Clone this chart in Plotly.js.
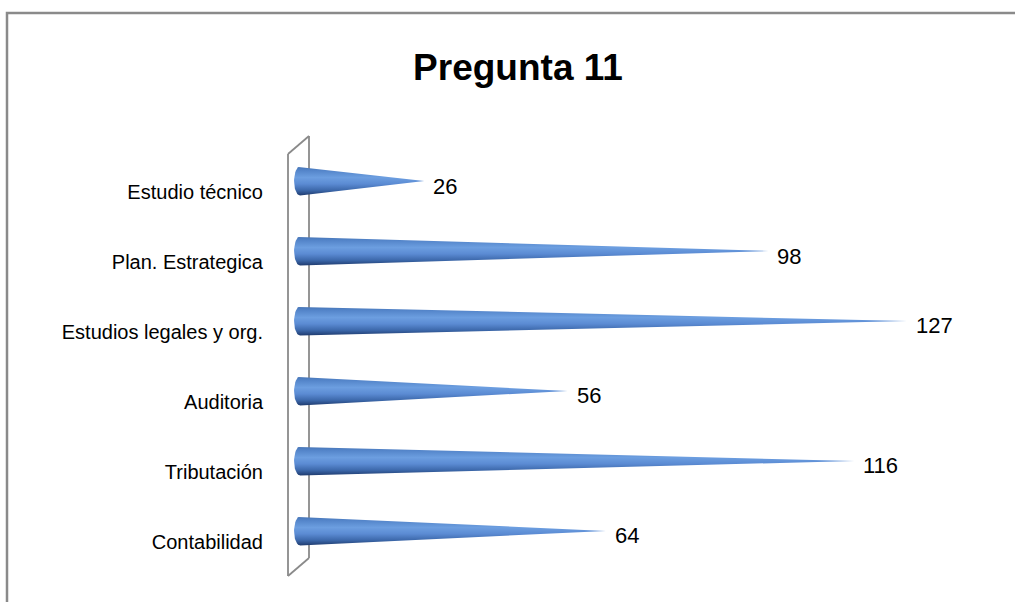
<!DOCTYPE html>
<html>
<head>
<meta charset="utf-8">
<script src="https://cdn.plot.ly/plotly-3.0.1.min.js"></script>
<style>html,body{margin:0;padding:0;background:#fff;}#chart{width:1015px;height:602px;}</style>
</head>
<body>
<div id="chart"></div>
<script>
var categories = ["Estudio técnico", "Plan. Estrategica", "Estudios legales y org.", "Auditoria", "Tributación", "Contabilidad"];
var values = [26, 98, 127, 56, 116, 64];
var chartTitle = "Pregunta 11";

var W = 1015, H = 602;
var mL = 290, mR = 46, mT = 136, mB = 27;
var pw = W - mL - mR, ph = H - mT - mB;
function px(x) { return (x - mL) / pw; }
function py(y) { return 1 - (y - mT) / ph; }

var halfH = 0.207;   // cone half-height in category units
var baseA = 1.25;    // ellipse half-width of cone base in value units
var gradScale = [[0, '#4674b4'], [0.12, '#5283c8'], [0.38, '#6c9ee0'], [0.6, '#5b8bd3'], [0.82, '#3c68aa'], [1, '#1f3b6e']];

var traces = [];
categories.forEach(function (c, i) {
  var v = values[i];
  var xs = [v], ys = [i];
  var N = 24;
  for (var k = 0; k <= N; k++) {
    var t = Math.PI * k / N;
    xs.push(-baseA * Math.sin(t));
    ys.push(i - halfH * Math.cos(t));
  }
  xs.push(v); ys.push(i);
  traces.push({
    type: 'scatter', mode: 'lines', x: xs, y: ys,
    fill: 'toself',
    fillgradient: { type: 'vertical', colorscale: gradScale, start: i - halfH, stop: i + halfH },
    line: { width: 0, color: '#3b66a6' },
    hoverinfo: 'skip', showlegend: false, name: c
  });
});

var annotations = categories.map(function (c, i) {
  return {
    x: values[i], y: i, xref: 'x', yref: 'y', text: String(values[i]),
    showarrow: false, xanchor: 'left', yanchor: 'middle', xshift: 7, yshift: -5,
    font: { family: 'Liberation Sans, Arial, sans-serif', size: 22, color: '#000' }
  };
});

var gray = '#8a8a8a';
var shapes = [
  // outer chart frame
  { type: 'rect', xref: 'paper', yref: 'paper', x0: px(7), x1: px(1030), y0: py(13), y1: py(620), line: { color: gray, width: 2.5 }, layer: 'below' },
  // wall
  { type: 'line', xref: 'paper', yref: 'paper', x0: px(288), x1: px(288), y0: py(154), y1: py(576), line: { color: gray, width: 1.8 }, layer: 'below' },
  { type: 'line', xref: 'paper', yref: 'paper', x0: px(309), x1: px(309), y0: py(136), y1: py(558), line: { color: gray, width: 1.8 }, layer: 'below' },
  { type: 'line', xref: 'paper', yref: 'paper', x0: px(288), x1: px(309), y0: py(154), y1: py(136), line: { color: gray, width: 1.8 }, layer: 'below' },
  { type: 'line', xref: 'paper', yref: 'paper', x0: px(288), x1: px(309), y0: py(576), y1: py(558), line: { color: gray, width: 1.8 }, layer: 'below' }
];

var layout = {
  width: W, height: H,
  margin: { l: mL, r: mR, t: mT, b: mB, pad: 0 },
  paper_bgcolor: '#fff', plot_bgcolor: 'rgba(0,0,0,0)',
  title: {
    text: '<b>' + chartTitle + '</b>',
    font: { family: 'Liberation Sans, Arial, sans-serif', size: 37, color: '#000' },
    xref: 'container', yref: 'container', x: 518 / W, y: 1 - 67 / H, xanchor: 'center', yanchor: 'middle'
  },
  xaxis: { range: [-2.1, 140], visible: false, fixedrange: true },
  yaxis: {
    range: [5.629, -0.643], tickvals: categories.map(function (c, i) { return i; }), ticktext: categories,
    showgrid: false, zeroline: false, showline: false, ticks: '',
    ticklabelstandoff: 26, ticklabelshift: -11,
    tickfont: { family: 'Liberation Sans, Arial, sans-serif', size: 20, color: '#000' },
    fixedrange: true
  },
  shapes: shapes,
  annotations: annotations,
  showlegend: false
};

Plotly.newPlot('chart', traces, layout, { displayModeBar: false, staticPlot: true });
</script>
</body>
</html>
